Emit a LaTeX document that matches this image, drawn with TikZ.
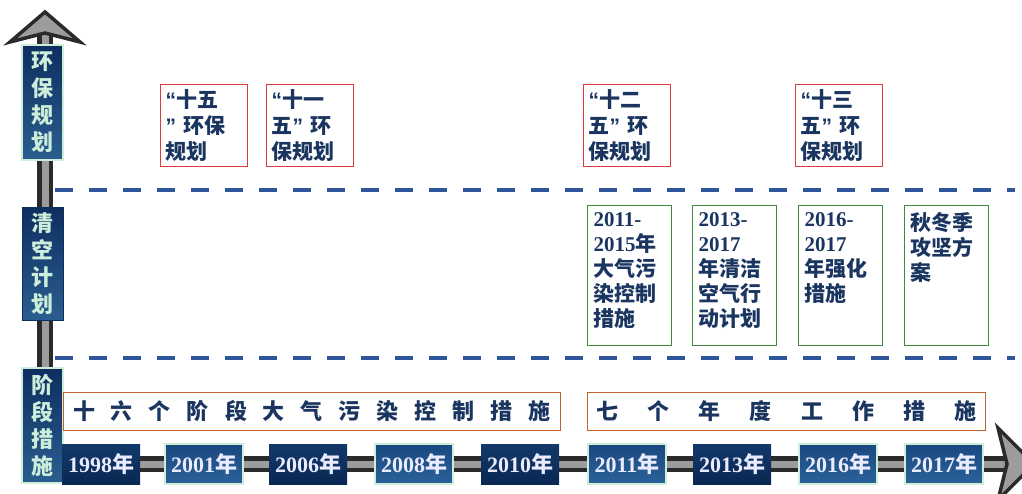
\documentclass[tikz,border=0pt]{standalone}
\usepackage{fontspec}
\setmainfont{Liberation Serif}
\newfontfamily\cjk{Noto Sans CJK SC}
\newfontfamily\qfont{Liberation Sans}
\usetikzlibrary{positioning}

\definecolor{navytext}{HTML}{1A3560}
\definecolor{mint}{HTML}{CDEFDA}
\definecolor{labeltop}{HTML}{0E2E60}
\definecolor{labelbottom}{HTML}{2B5E90}
\definecolor{darktop}{HTML}{12396B}
\definecolor{darkbottom}{HTML}{0A2853}
\definecolor{littop}{HTML}{1A4880}
\definecolor{litbottom}{HTML}{2B6299}
\definecolor{dashblue}{HTML}{2F559A}
\definecolor{boxred}{HTML}{E0393B}
\definecolor{boxgreen}{HTML}{3F8A3C}
\definecolor{boxorange}{HTML}{C5622B}
\definecolor{shaftdark}{HTML}{2A2A2A}
\definecolor{shaftlight}{HTML}{9C9C9C}

\newcommand{\yrnum}[1]{{\rmfamily\bfseries #1}}
\newcommand{\gtext}[1]{\parbox[t][126pt][t]{72pt}{#1}}
\newcommand{\openq}{{\qfont\bfseries “}}
\newcommand{\closeq}{{\qfont\bfseries ”}}

\tikzset{
    axislabel/.style={minimum width=41, minimum height=115, inner sep=0, align=center,
        top color=labeltop, bottom color=labelbottom,
        text=mint, font=\cjk\bfseries\fontsize{22}{27}\selectfont},
    axislit/.style={axislabel, draw=mint, line width=2},
    yearbox/.style={minimum width=78, minimum height=40, inner sep=0, text=white!92!blue,
        top color=darktop, bottom color=darkbottom,
        font=\cjk\bfseries\fontsize{22}{22}\selectfont},
    yearlit/.style={yearbox, draw=mint, line width=2,
        top color=littop, bottom color=litbottom},
    planbox/.style={draw=boxred, line width=1, anchor=north west, minimum width=87,
        minimum height=80, inner sep=5, text width=77, align=left, text=navytext,
        font=\cjk\bfseries\fontsize{21}{26}\selectfont},
    airbox/.style={draw=boxgreen, line width=1, anchor=north west, inner xsep=6,
        inner ysep=7, text=navytext, font=\cjk\bfseries\fontsize{21}{25}\selectfont},
    stagebox/.style={draw=boxorange, line width=1, anchor=north west, minimum height=38,
        inner sep=0, text=navytext, font=\cjk\bfseries\fontsize{22}{22}\selectfont},
    dashline/.style={draw=dashblue, line width=4, dash pattern=on 18pt off 16pt},
    shaft/.style={line width=16, shaftdark},
    shaftcore/.style={line width=7, shaftlight},
    arrowhead/.style={fill=shaftlight, draw=shaftdark, line width=3.5, line join=miter}
}

\begin{document}
\begin{tikzpicture}[x=1pt, y=-1pt]
    \clip (0,0) rectangle (1022,493);
    \useasboundingbox (0,0) rectangle (1022,493);

    % axes
    \coordinate (origin) at (45,464);
    \coordinate (ytop) at (45,30);
    \coordinate (xend) at (1006,464);
    \draw[shaft] (origin) -- (ytop);
    \draw[shaftcore] (origin) -- (ytop);
    \draw[shaft] (origin) -- (xend);
    \draw[shaftcore] (origin) -- (xend);
    \draw[arrowhead] (45,12) -- (80,42) -- (45,33) -- (10,42) -- cycle;
    \draw[arrowhead] (998,428) -- (1034,464) -- (998,500) -- (1007,464) -- cycle;

    % dashed separators
    \coordinate (upa) at (55,190);
    \coordinate (upb) at (1015,190);
    \coordinate (loa) at (55,358);
    \coordinate (lob) at (1015,358);
    \draw[dashline] (upa) -- (upb);
    \draw[dashline] (loa) -- (lob);

    % row labels
    \node[axislit] (plan) at (42.5,102.5) {环\\保\\规\\划};
    \node[axislabel, draw=labeltop, line width=1, minimum height=113] (clean) at (42.5,263.5) {清\\空\\计\\划};
    \node[axislit] (stage) at (42.5,425.5) {阶\\段\\措\\施};

    % years
    \foreach \yr/\x/\sty in {1998/101/yearbox, 2001/204/yearlit, 2006/308/yearbox,
        2008/414/yearlit, 2010/520/yearbox, 2011/627/yearlit, 2013/732/yearbox,
        2016/838/yearlit, 2017/944/yearlit}
        \node[\sty] (y\yr) at (\x,464) {\yrnum{\yr}年};

    % stages
    \node[stagebox, minimum width=497] (sixteen) at (63,392)
        {\makebox[497pt]{\makebox[478pt][s]{十 六 个 阶 段 大 气 污 染 控 制 措 施}}};
    \node[stagebox, minimum width=398] (seven) at (587,392)
        {\makebox[398pt]{\makebox[380pt][s]{七 个 年 度 工 作 措 施}}};

    % five-year plans
    \node[planbox] (p10) at (160,84) {\openq 十五\\\closeq\ 环保\\规划};
    \node[planbox] (p11) at (266,84) {\openq 十一\\五\closeq\ 环\\保规划};
    \node[planbox] (p12) at (583,84) {\openq 十二\\五\closeq\ 环\\保规划};
    \node[planbox] (p13) at (795,84) {\openq 十三\\五\closeq\ 环\\保规划};

    % clean air plans
    \node[airbox] (a1) at (587,205) {\gtext{\yrnum{2011-}\\\yrnum{2015}年\\大气污\\染控制\\措施}};
    \node[airbox] (a2) at (692,205) {\gtext{\yrnum{2013-}\\\yrnum{2017}\\年清洁\\空气行\\动计划}};
    \node[airbox] (a3) at (798,205) {\gtext{\yrnum{2016-}\\\yrnum{2017}\\年强化\\措施}};
    \node[airbox] (a4) at (904,205) {\gtext{秋冬季\\攻坚方\\案}};
\end{tikzpicture}
\end{document}
